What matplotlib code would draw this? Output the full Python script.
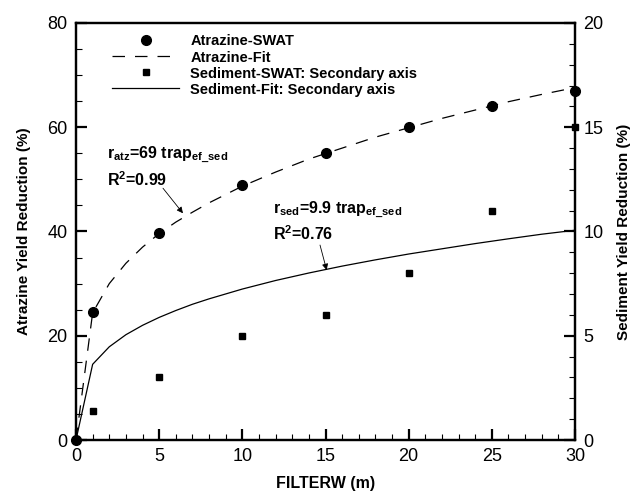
import numpy as np
import matplotlib
matplotlib.use("Agg")
import matplotlib.pyplot as plt
from matplotlib.ticker import MultipleLocator

plt.rcParams.update({
    "font.family": ["Liberation Sans", "DejaVu Sans"],
    "mathtext.fontset": "custom",
    "mathtext.rm": "Liberation Sans",
    "mathtext.bf": "Liberation Sans:bold",
    "mathtext.it": "Liberation Sans:italic",
})

# filter width (m) of the SWAT runs
width = [0, 1, 5, 10, 15, 20, 25, 30]
atrazine_swat = [0, 24.5, 39.7, 49.0, 55.0, 60.0, 64.1, 67.0]
sediment_swat = [0, 1.4, 3.0, 5.0, 6.0, 8.0, 11.0, 15.0]

# fitted curves
fit_width = [0, 1, 2, 3, 4, 5, 6, 7, 8, 10, 12, 14, 16, 18, 20, 22, 24, 26, 28, 30]
atrazine_fit = [0, 24.4, 30.0, 33.9, 37.0, 39.6, 41.8, 43.7, 45.5, 48.7, 51.4,
                53.9, 56.0, 58.1, 59.9, 61.7, 63.3, 64.9, 66.3, 67.6]
sediment_fit = [0, 3.63, 4.47, 5.05, 5.50, 5.88, 6.21, 6.51, 6.77, 7.24, 7.65,
                8.01, 8.34, 8.64, 8.92, 9.17, 9.42, 9.65, 9.87, 10.06]

fig = plt.figure(figsize=(6.37, 4.94), dpi=100)
ax = fig.add_axes([76 / 637, 1 - 440 / 494, 499 / 637, 417 / 494])
ax2 = ax.twinx()

h1, = ax.plot(width, atrazine_swat, "o", color="black", markersize=7,
              clip_on=False, zorder=5, label="Atrazine-SWAT")
h2, = ax.plot(fit_width, atrazine_fit, color="black", lw=0.9,
              dashes=(10, 8), label="Atrazine-Fit")
h3, = ax2.plot(width, sediment_swat, "s", color="black", markersize=5,
               clip_on=False, zorder=5, label="Sediment-SWAT: Secondary axis")
h4, = ax2.plot(fit_width, sediment_fit, color="black", lw=0.9,
               label="Sediment-Fit: Secondary axis")

ax.set_xlim(0, 30)
ax.set_ylim(0, 80)
ax2.set_ylim(0, 20)

ax.xaxis.set_major_locator(MultipleLocator(5))
ax.xaxis.set_minor_locator(MultipleLocator(1))
ax.yaxis.set_major_locator(MultipleLocator(20))
ax.yaxis.set_minor_locator(MultipleLocator(5))
ax2.yaxis.set_major_locator(MultipleLocator(5))
ax2.yaxis.set_minor_locator(MultipleLocator(1))

for a in (ax, ax2):
    for s in a.spines.values():
        s.set_linewidth(1.6)
ax.tick_params(which="major", direction="in", length=8, width=1.6,
               labelsize=13, pad=6, top=False, right=False)
ax.tick_params(which="minor", direction="in", length=4.5, width=0.8,
               top=False, right=False)
ax2.tick_params(which="major", direction="in", length=8, width=1.6,
                labelsize=13, pad=6)
ax2.tick_params(which="minor", direction="in", length=4.5, width=0.8)

ax.set_xlabel("FILTERW (m)", fontsize=11.5, fontweight="bold", labelpad=8)
ax.set_ylabel("Atrazine Yield Reduction (%)", fontsize=11, fontweight="bold",
              labelpad=12)
ax2.set_ylabel("Sediment Yield Reduction (%)", fontsize=11, fontweight="bold",
               labelpad=10)

ax.legend(handles=[h1, h2, h3, h4], loc="upper left",
          bbox_to_anchor=(0.058, 0.99), frameon=False,
          handlelength=4.6, handletextpad=0.75, labelspacing=0.14,
          borderpad=0, prop={"weight": "bold", "size": 10.5})

ax.text(1.86, 54.7, r"r$_{\mathbf{atz}}$=69 trap$_{\mathbf{ef\_sed}}$",
        fontsize=11.5, fontweight="bold", va="center")
ax.text(1.86, 49.9, r"R$^{\mathbf{2}}$=0.99", fontsize=11.5,
        fontweight="bold", va="center")
ax.annotate("", xy=(6.43, 43.5), xytext=(5.23, 48.3),
            arrowprops=dict(arrowstyle="-|>", color="black", lw=0.6,
                            mutation_scale=9, shrinkA=0, shrinkB=0))

ax.text(11.83, 44.1, r"r$_{\mathbf{sed}}$=9.9 trap$_{\mathbf{ef\_sed}}$",
        fontsize=11.5, fontweight="bold", va="center")
ax.text(11.83, 39.5, r"R$^{\mathbf{2}}$=0.76", fontsize=11.5,
        fontweight="bold", va="center")
ax.annotate("", xy=(15.07, 32.6), xytext=(14.67, 37.4),
            arrowprops=dict(arrowstyle="-|>", color="black", lw=0.6,
                            mutation_scale=9, shrinkA=0, shrinkB=0))

fig.savefig("out.png", dpi=100)
